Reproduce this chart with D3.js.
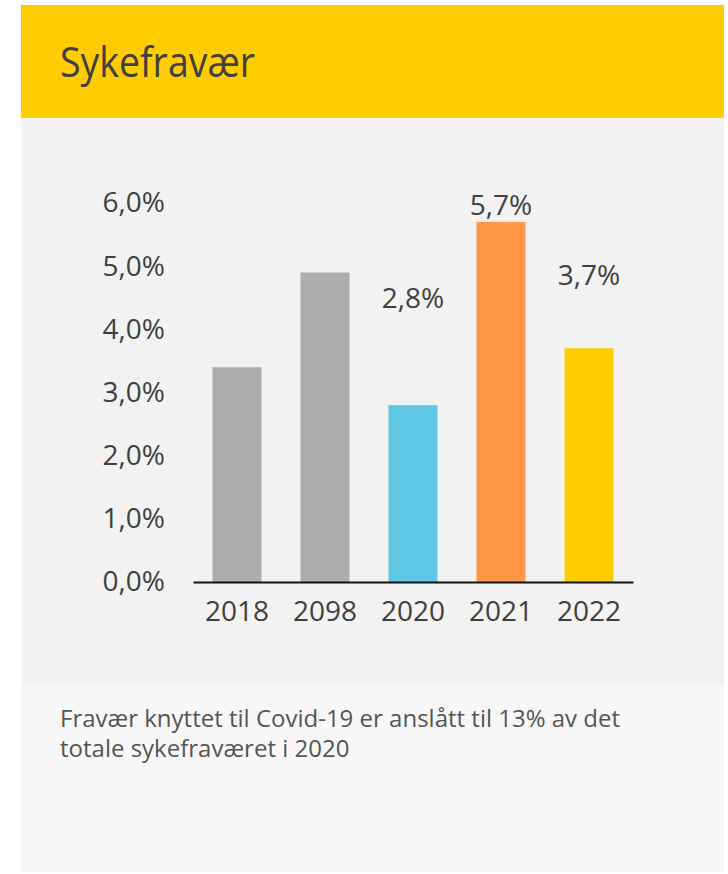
<!DOCTYPE html>
<html>
<head>
<meta charset="utf-8">
<style>
    body { margin: 0; background: #ffffff; }
    svg text { font-family: "Open Sans", sans-serif; }
</style>
</head>
<body>
<script src="https://d3js.org/d3.v7.min.js"></script>
<script>
    // chart data
    var years = ["2018", "2098", "2020", "2021", "2022"];
    var values = [3.4, 4.9, 2.8, 5.7, 3.7];
    var barColors = ["#adadad", "#adadad", "#5ec8e5", "#ff9648", "#ffcc00"];
    // value labels (only three are shown) and the level they sit at, in %
    var valueLabels = [null, null, "2,8%", "5,7%", "3,7%"];
    var labelLevel = [null, null, 4.5, 5.97, 4.86];
    var yTicks = [0, 1, 2, 3, 4, 5, 6];
    var title = "Sykefravær";
    var note = ["Fravær knyttet til Covid-19 er anslått til 13% av det",
                "totale sykefraværet i 2020"];

    var w = 728, h = 874;
    var svg = d3.select("body").append("svg")
        .attr("width", w)
        .attr("height", h);

    // panels
    svg.append("rect").attr("x", 21).attr("y", 5).attr("width", 703).attr("height", 113).attr("fill", "#ffcc00");
    svg.append("rect").attr("x", 21).attr("y", 118).attr("width", 703).attr("height", 567).attr("fill", "#f2f2f2");
    svg.append("rect").attr("x", 21).attr("y", 685).attr("width", 703).attr("height", 187).attr("fill", "#f7f7f7");

    // title (narrow face in the original, squeeze a bit)
    svg.append("text")
        .attr("x", 60).attr("y", 77)
        .attr("font-size", "42px")
        .attr("textLength", 195)
        .attr("lengthAdjust", "spacingAndGlyphs")
        .attr("fill", "#404040")
        .text(title);

    // scales
    var x = d3.scaleBand()
        .domain(years)
        .range([193, 633])
        .paddingInner(0.443)
        .paddingOuter(0.2215);

    var y = d3.scaleLinear()
        .domain([0, 6])
        .range([582, 203]);

    // bars
    svg.append("g")
        .selectAll("rect")
        .data(years)
        .enter()
        .append("rect")
        .attr("x", function (d) { return x(d); })
        .attr("y", function (d, i) { return y(values[i]); })
        .attr("width", x.bandwidth())
        .attr("height", function (d, i) { return y(0) - y(values[i]); })
        .attr("fill", function (d, i) { return barColors[i]; });

    // y axis (labels only)
    var yAxis = svg.append("g")
        .attr("transform", "translate(165,0)")
        .call(d3.axisLeft(y).tickValues(yTicks).tickSize(0).tickPadding(0)
            .tickFormat(function (d) { return d3.format(".1f")(d).replace(".", ",") + "%"; }));
    yAxis.select(".domain").remove();
    yAxis.selectAll("text")
        .attr("font-family", "Open Sans, sans-serif")
        .attr("font-size", "28px")
        .attr("fill", "#404040");

    // x axis
    var xAxis = svg.append("g")
        .attr("transform", "translate(0,582)")
        .call(d3.axisBottom(x).tickSize(0).tickSizeOuter(0).tickPadding(19));
    xAxis.select(".domain").attr("stroke", "#111").attr("stroke-width", 2);
    xAxis.selectAll("text")
        .attr("font-family", "Open Sans, sans-serif")
        .attr("font-size", "28px")
        .attr("fill", "#404040");

    // value labels
    svg.append("g")
        .selectAll("text")
        .data(years.filter(function (d, i) { return valueLabels[i]; }))
        .enter()
        .append("text")
        .attr("x", function (d) { return x(d) + x.bandwidth() / 2; })
        .attr("y", function (d) { return y(labelLevel[years.indexOf(d)]); })
        .attr("dy", "0.35em")
        .attr("text-anchor", "middle")
        .attr("font-size", "28px")
        .attr("fill", "#404040")
        .text(function (d) { return valueLabels[years.indexOf(d)]; });

    // footnote
    svg.append("g")
        .selectAll("text")
        .data(note)
        .enter()
        .append("text")
        .attr("x", 60)
        .attr("y", function (d, i) { return 727 + i * 30; })
        .attr("font-size", "24px")
        .attr("fill", "#555555")
        .text(function (d) { return d; });
</script>
</body>
</html>
